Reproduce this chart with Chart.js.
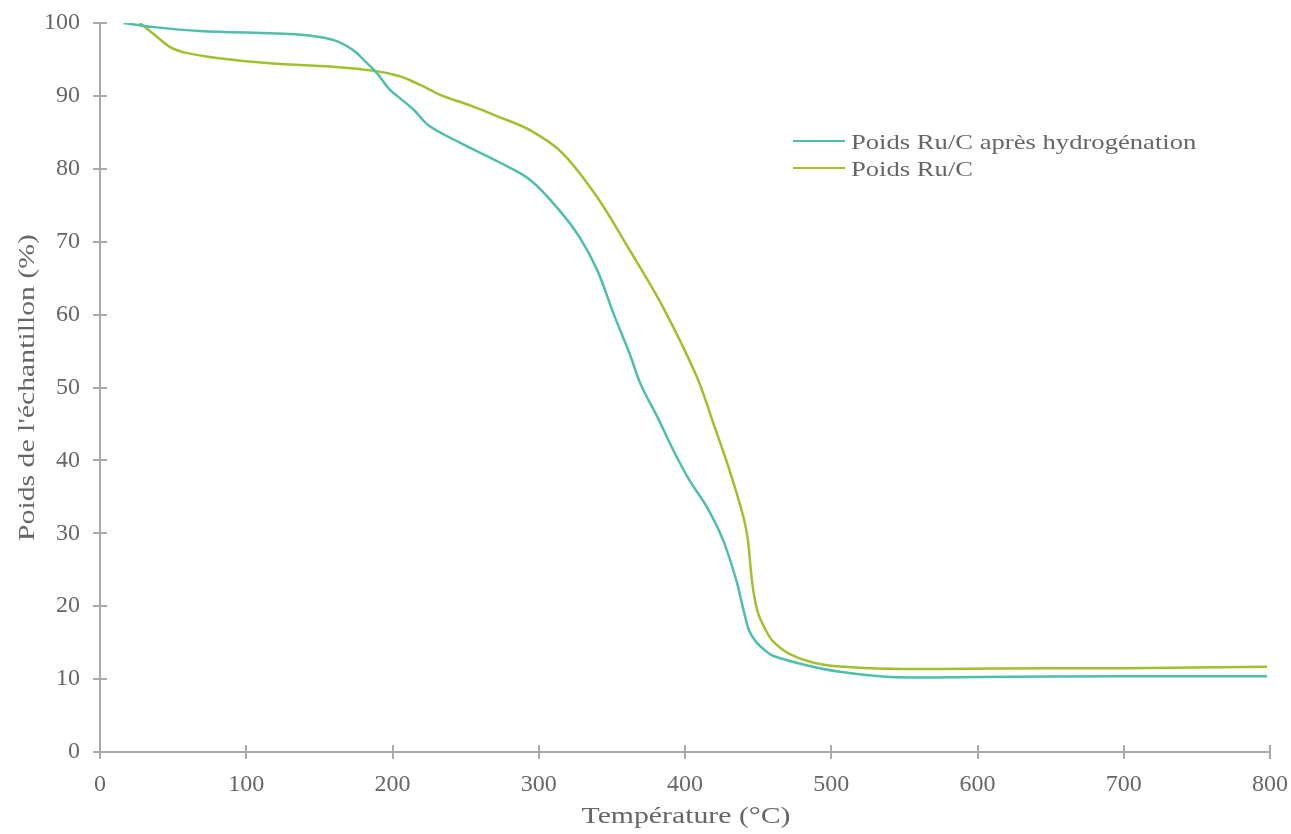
<!DOCTYPE html>
<html>
<head>
<meta charset="utf-8">
<script src="https://cdn.jsdelivr.net/npm/chart.js@4"></script>
<style>
html,body{margin:0;padding:0;background:#fff;}
canvas{display:block;}
</style>
</head>
<body>
<canvas id="c" width="1291" height="834"></canvas>
<script>
// Poids Ru/C après hydrogénation
const tempsH = [16, 34, 68, 137, 159, 173, 182, 189, 198, 205, 215, 225, 246, 273, 294, 315, 328, 340, 351, 362, 370, 381, 392, 403, 415, 426, 435, 440, 444, 449, 455, 460, 483, 506, 540, 600, 700, 798];
const poidsH = [100, 99.5, 98.9, 98.4, 97.7, 96.3, 94.6, 93.2, 90.9, 89.7, 88.0, 85.9, 83.6, 80.9, 78.5, 74.1, 70.6, 66.1, 60.2, 54.7, 50.3, 46.0, 41.4, 37.3, 33.6, 29.1, 23.6, 19.5, 16.6, 15.0, 13.9, 13.2, 11.9, 11.0, 10.3, 10.3, 10.4, 10.4];
// Poids Ru/C
const tempsRu = [27, 36, 48, 59, 80, 114, 159, 189, 205, 219, 233, 253, 273, 294, 316, 340, 362, 385, 408, 419, 431, 440, 443, 445, 447, 450, 455, 460, 472, 494, 528, 574, 650, 700, 798];
const poidsRu = [100, 98.6, 96.7, 95.9, 95.2, 94.5, 94.0, 93.4, 92.7, 91.5, 90.1, 88.7, 87.1, 85.3, 82.2, 76.1, 68.9, 61.0, 51.5, 45.3, 38.3, 32.2, 29.1, 25.0, 21.8, 19.0, 16.8, 15.2, 13.4, 12.0, 11.5, 11.4, 11.5, 11.5, 11.7];

const seriesLabels = ['Poids Ru/C après hydrogénation', 'Poids Ru/C'];
const seriesColors = ['#4dbfab', '#9ec12c'];
const xTitle = 'Température (°C)';
const yTitle = "Poids de l'échantillon (%)";

const FONT = 'Liberation Serif';
const TXT = '#666666';
const AX = '#aaaaaa';

function drawWide(ctx, text, x, y, align, widen) {
  ctx.save();
  ctx.translate(x, y);
  ctx.scale(widen, 1);
  ctx.textAlign = align;
  ctx.fillText(text, 0, 0);
  ctx.restore();
}

const innerTicks = {
  id: 'innerTicks',
  afterDraw(chart) {
    const ctx = chart.ctx;
    const xs = chart.scales.x, ys = chart.scales.y;
    ctx.save();
    ctx.strokeStyle = AX;
    ctx.lineWidth = 2;
    xs.ticks.forEach(t => {
      const px = Math.round(xs.getPixelForValue(t.value));
      ctx.beginPath(); ctx.moveTo(px, xs.top); ctx.lineTo(px, xs.top - 7); ctx.stroke();
    });
    ys.ticks.forEach(t => {
      const py = Math.round(ys.getPixelForValue(t.value));
      ctx.beginPath(); ctx.moveTo(ys.right, py); ctx.lineTo(ys.right + 7, py); ctx.stroke();
    });
    ctx.restore();
  }
};

const titlesAndLegend = {
  id: 'titlesAndLegend',
  afterDraw(chart) {
    const ctx = chart.ctx;
    const a = chart.chartArea;
    ctx.save();
    ctx.fillStyle = TXT;
    ctx.textBaseline = 'alphabetic';
    ctx.font = '24px "' + FONT + '"';
    drawWide(ctx, xTitle, (a.left + a.right) / 2 + 1, 823, 'center', 1.24);
    ctx.save();
    ctx.translate(34, (a.top + a.bottom) / 2);
    ctx.rotate(-Math.PI / 2);
    drawWide(ctx, yTitle, 0, 0, 'center', 1.24);
    ctx.restore();
    ctx.font = '22px "' + FONT + '"';
    chart.data.datasets.forEach((ds, i) => {
      const y = 141 + i * 27;
      ctx.strokeStyle = ds.borderColor;
      ctx.lineWidth = 2;
      ctx.beginPath(); ctx.moveTo(793, y); ctx.lineTo(845, y); ctx.stroke();
      ctx.fillStyle = TXT;
      drawWide(ctx, ds.label, 851, y + 8, 'left', 1.21);
    });
    ctx.restore();
  }
};

function noPad(s) { s.paddingLeft = 0; s.paddingRight = 0; s.paddingTop = 0; s.paddingBottom = 0; }

new Chart(document.getElementById('c'), {
  type: 'line',
  data: {
    datasets: [
      { label: seriesLabels[0], data: tempsH.map((t, i) => ({ x: t, y: poidsH[i] })), borderColor: seriesColors[0], backgroundColor: seriesColors[0], borderWidth: 2.5, pointRadius: 0, tension: 0.35, fill: false },
      { label: seriesLabels[1], data: tempsRu.map((t, i) => ({ x: t, y: poidsRu[i] })), borderColor: seriesColors[1], backgroundColor: seriesColors[1], borderWidth: 2.5, pointRadius: 0, tension: 0.35, fill: false }
    ]
  },
  options: {
    responsive: false,
    animation: false,
    layout: { padding: { top: 23, right: 21, left: 0, bottom: 0 } },
    plugins: { legend: { display: false }, tooltip: { enabled: false } },
    scales: {
      x: {
        type: 'linear', min: 0, max: 800,
        ticks: { stepSize: 100, color: TXT, font: { family: FONT, size: 24 }, padding: 11, maxRotation: 0 },
        grid: { drawOnChartArea: false, drawTicks: true, tickLength: 7, color: AX, lineWidth: 2 },
        border: { color: AX, width: 2 },
        title: { display: false },
        afterFit(s) { s.height = 82; noPad(s); }
      },
      y: {
        type: 'linear', min: 0, max: 100,
        ticks: { stepSize: 10, color: TXT, font: { family: FONT, size: 24 }, padding: 13 },
        grid: { drawOnChartArea: false, drawTicks: true, tickLength: 7, color: AX, lineWidth: 2 },
        border: { color: AX, width: 2 },
        title: { display: false },
        afterFit(s) { s.width = 100; noPad(s); }
      }
    }
  },
  plugins: [innerTicks, titlesAndLegend]
});
</script>
</body>
</html>
